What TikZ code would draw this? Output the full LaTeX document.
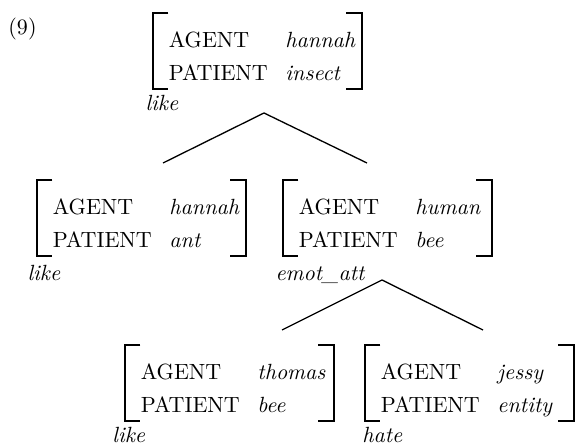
\documentclass[tikz,border=0pt]{standalone}
\usetikzlibrary{calc}
\tikzset{avm/.style={inner sep=0pt,anchor=north west}}
\tikzset{bracket/.style={draw,line width=0.8pt}}
\tikzset{branch/.style={draw,line width=0.6pt}}
\tikzset{relname/.style={inner sep=0pt,anchor=base west,font=\itshape}}
\newcommand{\avmrows}[2]{\begin{tabular}{@{\hspace{7pt}}p{53pt}@{}p{34.5pt}@{}}AGENT & \textit{#1}\\[3pt] PATIENT & \textit{#2}\end{tabular}}
\begin{document}
\begin{tikzpicture}[x=0.4545pt,y=-0.4545pt]
    \useasboundingbox (0,0) rectangle (579,448);
    \node[inner sep=0pt,anchor=base west] (num) at (8,34.5) {(9)};

    \node[avm] (m0) at (153,29) {\avmrows{hannah}{insect}};
    \node[avm] (m1) at (37,196) {\avmrows{hannah}{ant}};
    \node[avm] (m2) at (283,196) {\avmrows{human}{bee}};
    \node[avm] (m3) at (125,361) {\avmrows{thomas}{bee}};
    \node[avm] (m4) at (365,361) {\avmrows{jessy}{entity}};

    % brackets round each matrix
    \foreach \m in {m0,m1,m2,m3,m4}{
      \draw[bracket] ([xshift=7pt,yshift=7.4pt]\m.north west) -- ([yshift=7.4pt]\m.north west)
        -- (\m.south west) -- ([xshift=7pt]\m.south west);
      \draw[bracket] ([xshift=-7pt,yshift=7.4pt]\m.north east) -- ([yshift=7.4pt]\m.north east)
        -- (\m.south east) -- ([xshift=-7pt]\m.south east);
    }

    \node[relname] (r0) at ([xshift=-3.6pt,yshift=-9.5pt]m0.south west) {like};
    \node[relname] (r1) at ([xshift=-4.5pt,yshift=-11pt]m1.south west) {like};
    \node[relname] (r2) at ([xshift=-3.6pt,yshift=-11pt]m2.south west) {emot\_att};
    \node[relname] (r3) at ([xshift=-5.9pt,yshift=-9.5pt]m3.south west) {like};
    \node[relname] (r4) at ([xshift=-1.4pt,yshift=-9.5pt]m4.south west) {hate};

    \coordinate (t0) at (264,113);
    \coordinate (t0l) at (163,163);
    \coordinate (t0r) at (367,163);
    \coordinate (t2) at (382,280);
    \coordinate (t2l) at (282,330);
    \coordinate (t2r) at (483,330);
    \draw[branch] (t0l) -- (t0) -- (t0r);
    \draw[branch] (t2l) -- (t2) -- (t2r);
\end{tikzpicture}
\end{document}
